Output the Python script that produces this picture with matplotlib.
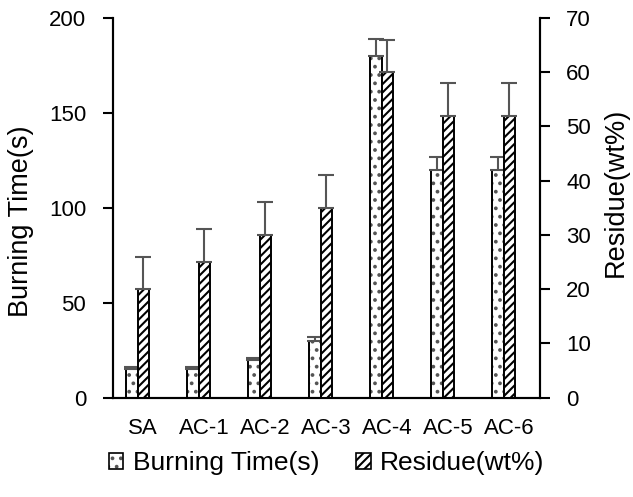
import numpy as np
import matplotlib
matplotlib.use("Agg")
import matplotlib.pyplot as plt
from matplotlib.patches import Patch

# ---------------------------------------------------------
# DATA
# ---------------------------------------------------------
samples = ["SA", "AC-1", "AC-2", "AC-3", "AC-4", "AC-5", "AC-6"]
burning_time = [15, 15, 20, 30, 180, 120, 120]
burning_err = [1, 1, 1, 2, 9, 6.5, 6.5]
residue = [20, 25, 30, 35, 60, 52, 52]
residue_err = [6, 6, 6, 6, 6, 6, 6]

plt.rcParams["font.family"] = ["Liberation Sans", "DejaVu Sans"]
plt.rcParams["hatch.linewidth"] = 1.5

fig = plt.figure(figsize=(6.33, 4.97), dpi=100)
ax = fig.add_axes([0.178, 0.200, 0.675, 0.764])
ax2 = ax.twinx()

x = np.arange(len(samples))
w = 0.185
zeros = np.zeros(len(samples))
dot_color = "#555555"

# burning time: grey dots, then black outline on top
ax.bar(x - w, burning_time, width=w, color="white", edgecolor=dot_color,
       linewidth=0, hatch="..", zorder=2)
ax.bar(x - w, burning_time, width=w, fill=False, edgecolor="black",
       linewidth=1.4, zorder=2.5)
ax.errorbar(x - w, burning_time, yerr=[zeros, burning_err], fmt="none",
            ecolor="#555555", elinewidth=1.5, capsize=6, capthick=1.5, zorder=3)

ax2.bar(x, residue, width=w, color="white", edgecolor="black",
        linewidth=1.4, hatch="////", zorder=2)
ax2.errorbar(x, residue, yerr=[zeros, residue_err], fmt="none",
             ecolor="#555555", elinewidth=1.5, capsize=6, capthick=1.5, zorder=3)

ax.set_xlim(-0.5, len(samples) - 0.5)
ax.set_ylim(0, 200)
ax2.set_ylim(0, 70)
ax.set_yticks([0, 50, 100, 150, 200])
ax2.set_yticks(range(0, 71, 10))
ax.set_xticks(x)
ax.set_xticklabels(samples)

for a in (ax, ax2):
    a.spines["top"].set_visible(False)
    for s in ("left", "right", "bottom"):
        a.spines[s].set_linewidth(1.5)

ax.tick_params(axis="x", length=0, pad=15, labelsize=16)
ax.tick_params(axis="y", direction="out", length=7, width=1.5, pad=12, labelsize=16)
ax2.tick_params(axis="y", direction="out", length=7, width=1.5, pad=12, labelsize=16)

ax.set_ylabel("Burning Time(s)", fontsize=19.5)
ax2.set_ylabel("Residue(wt%)", fontsize=19.5)
ax.yaxis.set_label_coords(-0.183, 0.465)
ax2.yaxis.set_label_coords(1.148, 0.54)

handles = [
    (Patch(facecolor="white", edgecolor=dot_color, linewidth=0, hatch=".."),
     Patch(fill=False, edgecolor="black", linewidth=1.2)),
    Patch(facecolor="white", edgecolor="black", linewidth=1.2, hatch="////"),
]
fig.legend(handles=handles, labels=["Burning Time(s)", "Residue(wt%)"],
           loc="center", bbox_to_anchor=(0.516, 0.068), ncol=2,
           frameon=False, fontsize=19, handlelength=0.55, handleheight=0.55,
           handletextpad=0.35, columnspacing=1.4)

fig.savefig("out.png", dpi=100)
